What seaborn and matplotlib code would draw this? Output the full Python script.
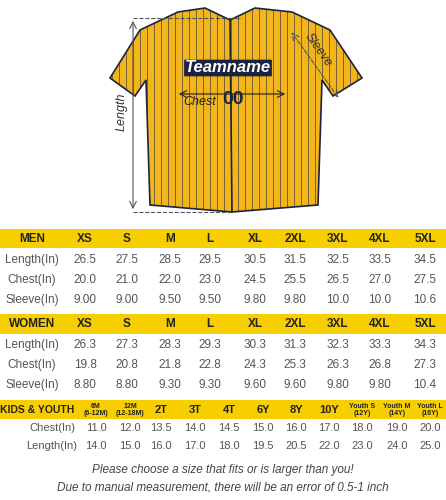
import numpy as np
import matplotlib.pyplot as plt
import matplotlib.patches as mpatches
import seaborn as sns

sns.set_theme(style="white")
plt.rcParams['font.family'] = ['Liberation Sans', 'DejaVu Sans']

#--Size chart data
men_sizes = ['XS', 'S', 'M', 'L', 'XL', '2XL', '3XL', '4XL', '5XL']
men_length = ['26.5', '27.5', '28.5', '29.5', '30.5', '31.5', '32.5', '33.5', '34.5']
men_chest = ['20.0', '21.0', '22.0', '23.0', '24.5', '25.5', '26.5', '27.0', '27.5']
men_sleeve = ['9.00', '9.00', '9.50', '9.50', '9.80', '9.80', '10.0', '10.0', '10.6']

women_sizes = ['XS', 'S', 'M', 'L', 'XL', '2XL', '3XL', '4XL', '5XL']
women_length = ['26.3', '27.3', '28.3', '29.3', '30.3', '31.3', '32.3', '33.3', '34.3']
women_chest = ['19.8', '20.8', '21.8', '22.8', '24.3', '25.3', '26.3', '26.8', '27.3']
women_sleeve = ['8.80', '8.80', '9.30', '9.30', '9.60', '9.60', '9.80', '9.80', '10.4']

kids_sizes = ['6M\n(6-12M)', '12M\n(12-18M)', '2T', '3T', '4T', '6Y', '8Y', '10Y',
              'Youth S\n(12Y)', 'Youth M\n(14Y)', 'Youth L\n(16Y)']
kids_chest = ['11.0', '12.0', '13.5', '14.0', '14.5', '15.0', '16.0', '17.0', '18.0', '19.0', '20.0']
kids_length = ['14.0', '15.0', '16.0', '17.0', '18.0', '19.5', '20.5', '22.0', '23.0', '24.0', '25.0']

notes = ['Please choose a size that fits or is larger than you!',
         'Due to manual measurement, there will be an error of 0.5-1 inch']

YELLOW = '#f7cf00'
JERSEY = '#f2b61c'
NAVY = '#1c2340'
GREY = '#555555'

fig = plt.figure(figsize=(4.46, 5.0), dpi=100)
ax = fig.add_axes([0, 0, 1, 1])
ax.set_xlim(0, 446)
ax.set_ylim(500, 0)
ax.axis('off')

#--Jersey illustration
body = [(178, 12), (205, 8), (230, 20), (255, 8), (292, 12), (330, 30), (362, 78),
        (333, 96), (322, 80), (318, 205), (232, 212), (150, 205), (146, 80),
        (135, 96), (110, 78), (140, 30)]
jersey = mpatches.Polygon(body, closed=True, facecolor=JERSEY, edgecolor=NAVY, lw=1.2, zorder=2)
ax.add_patch(jersey)
for xs in np.arange(112, 362, 7):
    ln, = ax.plot([xs, xs], [0, 215], color=NAVY, lw=0.5, alpha=0.8, zorder=3)
    ln.set_clip_path(jersey)
ax.plot([230, 232], [20, 212], color=NAVY, lw=1.2, zorder=4)
ax.text(228, 68, 'Teamname', color='white', fontsize=12, fontstyle='italic', fontweight='bold',
        ha='center', va='center', zorder=5,
        bbox=dict(boxstyle='round,pad=0.05', fc=NAVY, ec='none'))
ax.text(222, 100, '00', color=NAVY, fontsize=14, fontweight='bold', ha='left', va='center', zorder=5)
ax.text(183, 102, 'Chest', color='#222222', fontsize=9, fontstyle='italic', ha='left', va='center', zorder=5)
ax.annotate('', xy=(176, 94), xytext=(288, 94),
            arrowprops=dict(arrowstyle='<->', color='#222222', lw=0.8), zorder=5)
# length measurement
ax.plot([133, 240], [18, 18], ls='--', color=GREY, lw=0.8)
ax.plot([133, 232], [212, 212], ls='--', color=GREY, lw=0.8)
ax.annotate('', xy=(133, 18), xytext=(133, 212),
            arrowprops=dict(arrowstyle='<->', color=GREY, lw=0.8))
ax.text(122, 112, 'Length', rotation=90, fontsize=9, fontstyle='italic', color='#333333',
        ha='center', va='center')
# sleeve measurement
ax.annotate('', xy=(290, 30), xytext=(340, 100),
            arrowprops=dict(arrowstyle='<->', color=GREY, lw=0.8, ls='--'))
ax.text(318, 50, 'Sleeve', rotation=-55, fontsize=9, fontstyle='italic', color='#333333',
        ha='center', va='center')

#--Table
men_x = [85, 127, 170, 210, 255, 295, 338, 380, 425]
kids_x = [96, 130, 161, 195, 229, 263, 296, 329, 362, 397, 430]

def band(y0, y1):
    ax.add_patch(mpatches.Rectangle((0, y0), 446, y1 - y0, facecolor=YELLOW, edgecolor='none'))

def row(y, label, vals, xs, lx=32, fs=8.5):
    ax.text(lx, y, label, ha='center', va='center', fontsize=fs, color=GREY)
    for x, v in zip(xs, vals):
        ax.text(x, y, v, ha='center', va='center', fontsize=fs, color=GREY)

band(229, 248)
ax.text(32, 239, 'MEN', ha='center', va='center', fontsize=8.5, fontweight='bold', color='#222222')
for x, s in zip(men_x, men_sizes):
    ax.text(x, 239, s, ha='center', va='center', fontsize=8.5, fontweight='bold', color='#222222')
row(260, 'Length(In)', men_length, men_x)
row(280, 'Chest(In)', men_chest, men_x)
row(300, 'Sleeve(In)', men_sleeve, men_x)

band(314, 334)
ax.text(32, 324, 'WOMEN', ha='center', va='center', fontsize=8.5, fontweight='bold', color='#222222')
for x, s in zip(men_x, women_sizes):
    ax.text(x, 324, s, ha='center', va='center', fontsize=8.5, fontweight='bold', color='#222222')
row(345, 'Length(In)', women_length, men_x)
row(365, 'Chest(In)', women_chest, men_x)
row(385, 'Sleeve(In)', women_sleeve, men_x)

band(400, 419)
ax.text(37, 410, 'KIDS & YOUTH', ha='center', va='center', fontsize=7.5, fontweight='bold', color='#222222')
for x, s in zip(kids_x, kids_sizes):
    fs = 8 if '\n' not in s else 5
    ax.text(x, 410, s, ha='center', va='center', fontsize=fs, fontweight='bold',
            color='#222222', linespacing=0.9)
row(428, 'Chest(In)', kids_chest, kids_x, lx=52, fs=8)
row(446, 'Length(In)', kids_length, kids_x, lx=52, fs=8)

ax.text(223, 470, notes[0], ha='center', va='center', fontsize=8.5, fontstyle='italic', color='#444444')
ax.text(223, 487, notes[1], ha='center', va='center', fontsize=8.5, fontstyle='italic', color='#444444')

fig.savefig('out.png', dpi=100)
